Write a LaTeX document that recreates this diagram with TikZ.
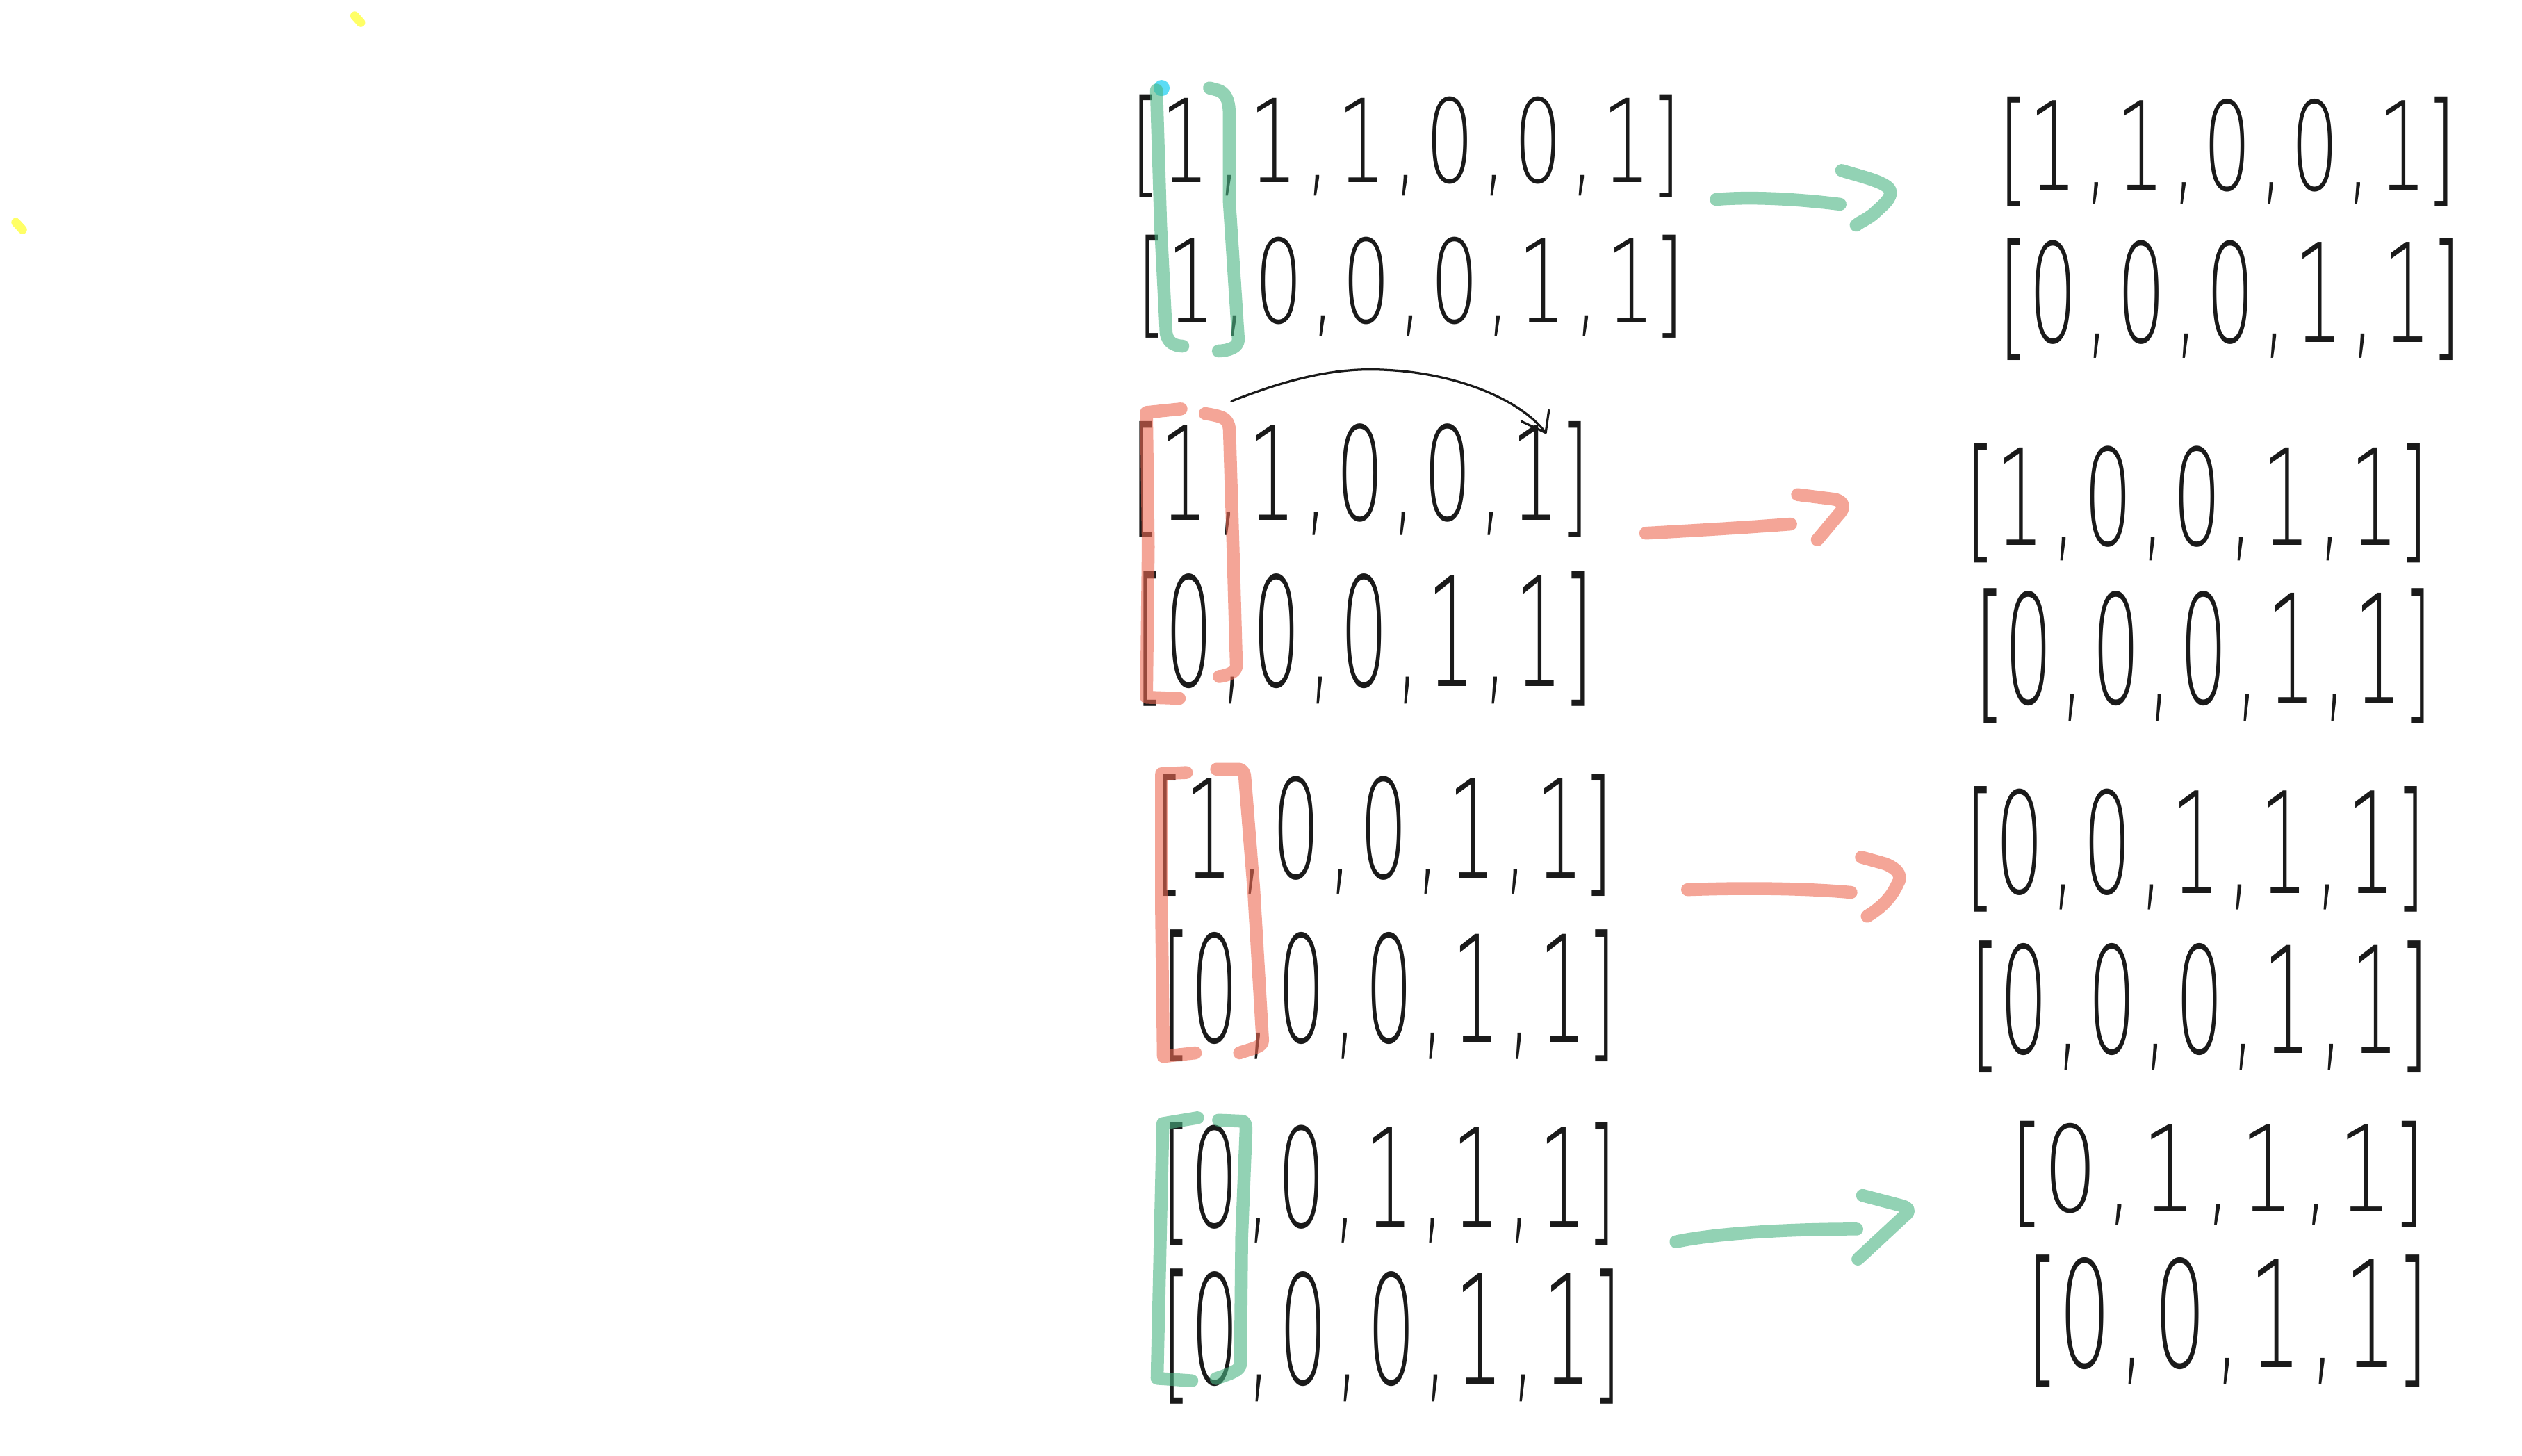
\documentclass[tikz,border=0pt]{standalone}
\usepackage{fontspec}
\usepackage{graphicx}
\IfFontExistsTF{DejaVu Sans ExtraLight}{\newfontfamily\hand{DejaVu Sans ExtraLight}}{%
 \IfFontExistsTF{Poppins Thin}{\newfontfamily\hand{Poppins Thin}[Numbers=Monospaced]}{%
   \newfontfamily\hand{Liberation Sans}}}
\definecolor{ink}{RGB}{26,26,26}
\definecolor{hlgreen}{RGB}{74,180,131}
\definecolor{hlred}{RGB}{238,105,83}
\definecolor{cyanc}{RGB}{92,220,245}
\definecolor{yel}{RGB}{255,255,102}
\tikzset{
  row/.style={anchor=north west, inner sep=0pt, outer sep=0pt, text=ink, font=\hand},
  hlg/.style={draw=hlgreen, draw opacity=0.6, line width=0.08cm, line cap=round, line join=round},
  hlr/.style={draw=hlred, draw opacity=0.6, line width=0.08cm, line cap=round, line join=round},
  pen/.style={draw=ink, line width=0.4pt, line cap=round, line join=round},
  dot/.style={draw=yel, line width=0.055cm, line cap=round}
}
\newcommand{\mrow}[3]{\resizebox*{#1cm}{#2cm}{#3}}
\newcommand{\sep}{\kern0.1em,\kern0.1em}
\begin{document}
\begin{tikzpicture}[x=0.01cm, y=-0.01cm]
\fill[white] (0,0) rectangle (1568,905);
\useasboundingbox (0,0) rectangle (1568,905);

% yellow dots
\draw[dot] (220.5,9.8) -- (224.3,14);
\draw[dot] (9.8,138.2) -- (14,142.8);

% rows, left column
\node[row] (l1a) at (703,59)  {\mrow{3.42}{0.64}{[1\sep 1\sep 1\sep 0\sep 0\sep 1]}};
\node[row] (l1b) at (707,146) {\mrow{3.40}{0.64}{[1\sep 0\sep 0\sep 0\sep 1\sep 1]}};
\node[row] (l2a) at (703,262) {\mrow{2.85}{0.72}{[1\sep 1\sep 0\sep 0\sep 1]}};
\node[row] (l2b) at (706,355) {\mrow{2.84}{0.84}{[0\sep 0\sep 0\sep 1\sep 1]}};
\node[row] (l3a) at (718,481) {\mrow{2.85}{0.76}{[1\sep 0\sep 0\sep 1\sep 1]}};
\node[row] (l3b) at (722,578) {\mrow{2.83}{0.82}{[0\sep 0\sep 0\sep 1\sep 1]}};
\node[row] (l4a) at (722,698) {\mrow{2.83}{0.76}{[0\sep 0\sep 1\sep 1\sep 1]}};
\node[row] (l4b) at (722,789) {\mrow{2.86}{0.84}{[0\sep 0\sep 0\sep 1\sep 1]}};
% rows, right column
\node[row] (r1a) at (1243,60)  {\mrow{2.84}{0.68}{[1\sep 1\sep 0\sep 0\sep 1]}};
\node[row] (r1b) at (1243,148) {\mrow{2.87}{0.76}{[0\sep 0\sep 0\sep 1\sep 1]}};
\node[row] (r2a) at (1222,276) {\mrow{2.88}{0.74}{[1\sep 0\sep 0\sep 1\sep 1]}};
\node[row] (r2b) at (1228,366) {\mrow{2.84}{0.84}{[0\sep 0\sep 0\sep 1\sep 1]}};
\node[row] (r3a) at (1222,489) {\mrow{2.86}{0.78}{[0\sep 0\sep 1\sep 1\sep 1]}};
\node[row] (r3b) at (1225,585) {\mrow{2.85}{0.82}{[0\sep 0\sep 0\sep 1\sep 1]}};
\node[row] (r4a) at (1250,697) {\mrow{2.58}{0.66}{[0\sep 1\sep 1\sep 1]}};
\node[row] (r4b) at (1260,780) {\mrow{2.50}{0.82}{[0\sep 0\sep 1\sep 1]}};

% curved black arrow over row l2a
\coordinate (cs) at (765.6,249.4);
\coordinate (ce) at (961,269);
\draw[pen] (cs) .. controls (800,236) and (830,228) .. (862,230)
  .. controls (905,232) and (945,248) .. (ce);
\draw[pen] (946,262) -- (ce) -- (963,255);

% highlight brackets
\fill[cyanc] (722.2,54.7) circle (0.05cm);
\draw[hlg] (719,56) -- (721.6,140) -- (725,207) .. controls (726,213) and (730,215) .. (735.4,215.2);
\draw[hlg] (752,54.7) -- (757,56) .. controls (762,57.5) and (764,62) .. (764.3,70) -- (764.3,125.3) -- (769.9,211) .. controls (770,216) and (764,218) .. (757.5,218.2);

\draw[hlr] (734.3,254.2) -- (712.8,256.4) -- (713.9,340) -- (712.8,433.5) -- (733.2,434.2);
\draw[hlr] (749.3,257.1) .. controls (755,258) and (760,259) .. (762,261) .. controls (764,263) and (764.4,266) .. (764.4,268) -- (766.6,340) -- (768.7,414) .. controls (768.5,418) and (763,420) .. (758,420.6);

\draw[hlr] (737.6,480.3) -- (722.2,481) -- (722.2,567.5) -- (723.3,656.8) -- (743.2,654.6);
\draw[hlr] (756.4,478.2) -- (770.7,478.2) .. controls (773,479) and (774,481) .. (774,484) -- (779.5,553) -- (785,647) .. controls (785,651) and (778,652) .. (770.7,654.6);

\draw[hlg] (744.6,694.9) -- (723,698.5) -- (719.4,856.9) -- (741,858.4);
\draw[hlg] (757.6,696.4) -- (772,697) .. controls (774,697) and (774.7,699) .. (774.7,702) -- (772,769) -- (771.2,848.3) .. controls (771,852) and (765,854) .. (756.1,857);

% arrows between columns
\coordinate (g1s) at (1067,124);  \coordinate (g1e) at (1144,127);
\coordinate (r2s) at (1023.2,331.5); \coordinate (r2e) at (1113.3,325.8);
\coordinate (r3s) at (1049.2,553.1); \coordinate (r3e) at (1150.8,554.8);
\coordinate (g4s) at (1042,772);  \coordinate (g4e) at (1154.4,764.1);

\draw[hlg] (g1s) .. controls (1090,122) and (1120,124) .. (g1e);
\draw[hlg] (1145,106) .. controls (1158,110) and (1172,113) .. (1175,118) .. controls (1177,123) and (1170,128) .. (1167,131) .. controls (1162,136) and (1158,137) .. (1154,140);

\draw[hlr] (r2s) .. controls (1050,330) and (1085,328) .. (r2e);
\draw[hlr] (1117.6,307.5) -- (1140.7,310.4) .. controls (1147,312) and (1147,316) .. (1143,320) -- (1129.9,335.6);

\draw[hlr] (r3s) .. controls (1080,552) and (1120,552) .. (r3e);
\draw[hlr] (1157.3,532.9) -- (1172,537) .. controls (1182,541) and (1182,546) .. (1180,549) .. controls (1176,558) and (1170,564) .. (1160.9,569.6);

\draw[hlg] (g4s) .. controls (1065,767) and (1110,764) .. (g4e);
\draw[hlg] (1158,743.2) -- (1182,749.5) .. controls (1188,751) and (1187,754) .. (1183.9,756) -- (1155.1,782.8);
\end{tikzpicture}
\end{document}
